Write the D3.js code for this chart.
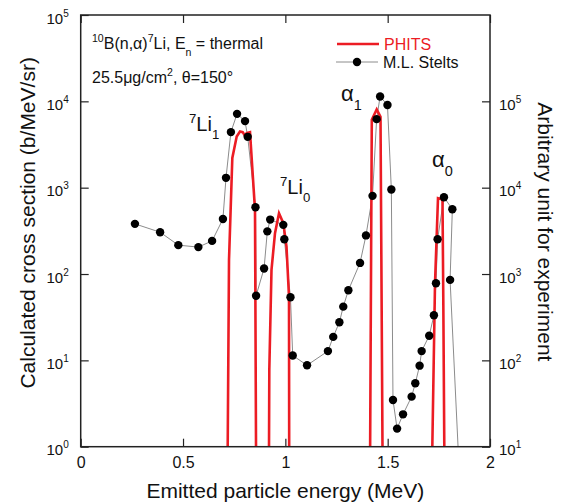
<!DOCTYPE html>
<html>
<head>
<meta charset="utf-8">
<script src="https://cdn.jsdelivr.net/npm/d3@7"></script>
<style>
  html, body { margin: 0; padding: 0; background: #fff; }
  svg { display: block; font-family: "Liberation Sans", Arial, Helvetica, sans-serif; }
</style>
</head>
<body>
<svg id="chart" width="565" height="504"></svg>
<script>
// Measured alpha / 7Li spectrum (arbitrary units, right axis)
const expEnergy = [0.265, 0.388, 0.477, 0.575, 0.642, 0.695, 0.710, 0.734, 0.764, 0.803,
  0.816, 0.854, 0.857, 0.896, 0.912, 0.926, 0.990, 0.995, 1.025, 1.036,
  1.106, 1.208, 1.234, 1.264, 1.283, 1.308, 1.365, 1.394, 1.426, 1.446,
  1.463, 1.499, 1.518, 1.526, 1.546, 1.575, 1.617, 1.635, 1.656, 1.666,
  1.703, 1.726, 1.736, 1.744, 1.775, 1.816, 1.805, 1.850];
const expCounts = [3810, 3050, 2160, 2050, 2420, 4330, 13000, 44000, 71600, 59000,
  38800, 5940, 560, 1160, 3120, 4270, 3710, 2530, 538, 114,
  87.7, 128, 187, 276, 419, 649, 1345, 2800, 8040, 62200,
  113700, 90600, 9510, 34.8, 16.2, 23.7, 38.0, 54.3, 86.8, 128,
  193, 333, 782, 2530, 7760, 5630, 855, 5];

// PHITS calculation (b/MeV/sr, left axis); 0.1 marks empty bins below the plotted range
const phitsEnergy = [0.7154, 0.7247, 0.7409, 0.7623, 0.7784, 0.7916, 0.8028, 0.8111, 0.8273, 0.8517, 0.8585,
  0.9186, 0.9216, 0.9323, 0.9494, 0.9690, 0.9900, 1.0056, 1.0178, 1.0193,
  1.4122, 1.4224, 1.4464, 1.4650, 1.4772,
  1.7112, 1.7313, 1.7459, 1.7679, 1.7718, 1.7796];
const phitsXs = [0.1, 146, 2214, 3910, 4467, 4395, 3981, 4285, 4395, 553, 0.1,
  0.1, 7.74, 111.6, 297, 506, 388, 208, 54.7, 0.1,
  0.1, 6110, 8075, 6610, 0.1,
  0.1, 78.2, 755, 731, 50.1, 0.1];

const energyTicks = [0, 0.5, 1, 1.5, 2];
const energyTickLabels = ["0", "0.5", "1", "1.5", "2"];
const xsTicks = [1, 10, 100, 1e3, 1e4, 1e5];
const countTicks = [10, 100, 1e3, 1e4, 1e5];

const svg = d3.select("#chart");
const plotLeft = 80.7, plotRight = 490, plotTop = 15, plotBottom = 446.7;

const x = d3.scaleLinear().domain([0, 2]).range([plotLeft, plotRight]);
const yXs = d3.scaleLog().domain([1, 1e5]).range([plotBottom, plotTop]);
const yCounts = d3.scaleLog().domain([10, 1e6]).range([plotBottom, plotTop]);

svg.append("defs").append("clipPath").attr("id", "plotClip")
  .append("rect").attr("x", plotLeft).attr("y", plotTop)
  .attr("width", plotRight - plotLeft).attr("height", plotBottom - plotTop);

const plot = svg.append("g").attr("clip-path", "url(#plotClip)");

const exp = expEnergy.map((e, i) => ({ e, v: expCounts[i] }));
const phits = phitsEnergy.map((e, i) => ({ e, v: phitsXs[i] }));

plot.append("path")
  .datum(exp)
  .attr("fill", "none")
  .attr("stroke", "#8c8c8c")
  .attr("stroke-width", 1)
  .attr("d", d3.line().x(d => x(d.e)).y(d => yCounts(d.v)));

plot.append("path")
  .datum(phits)
  .attr("fill", "none")
  .attr("stroke", "#ec1c24")
  .attr("stroke-width", 2.6)
  .attr("stroke-linejoin", "miter")
  .attr("d", d3.line().x(d => x(d.e)).y(d => yXs(d.v)));

plot.selectAll("circle.exp")
  .data(exp)
  .join("circle")
  .attr("class", "exp")
  .attr("cx", d => x(d.e))
  .attr("cy", d => yCounts(d.v))
  .attr("r", 4.2)
  .attr("fill", "#000");

// Axes: ticks point inward on all four sides
const axisColor = "#222";
function styleAxis(g) {
  g.select(".domain").remove();
  g.selectAll(".tick line").attr("stroke", axisColor).attr("stroke-width", 1.2);
  g.selectAll("text").attr("fill", "#111").attr("font-family", null);
}

const gBottom = svg.append("g").attr("transform", `translate(0,${plotBottom})`)
  .call(d3.axisBottom(x).tickValues(energyTicks).tickSize(-8).tickPadding(10)
    .tickFormat((d, i) => energyTickLabels[i]));
styleAxis(gBottom);
gBottom.selectAll("text").attr("font-size", 16);

const gTop = svg.append("g").attr("transform", `translate(0,${plotTop})`)
  .call(d3.axisTop(x).tickValues(energyTicks).tickSize(-8).tickFormat(""));
styleAxis(gTop);

function powerLabel(sel) {
  sel.each(function (d) {
    const t = d3.select(this);
    const p = Math.round(Math.log10(d));
    t.text(null);
    t.append("tspan").text("10");
    t.append("tspan").attr("font-size", 10).attr("dy", -7).text(p);
  });
}

const gLeft = svg.append("g").attr("transform", `translate(${plotLeft},0)`)
  .call(d3.axisLeft(yXs).tickValues(xsTicks).tickSize(-8).tickPadding(12));
styleAxis(gLeft);
gLeft.selectAll("text").attr("font-size", 15).attr("dy", "0.55em").call(powerLabel);

const gRight = svg.append("g").attr("transform", `translate(${plotRight},0)`)
  .call(d3.axisRight(yCounts).tickValues(countTicks).tickSize(-8).tickPadding(9));
styleAxis(gRight);
gRight.selectAll("text").attr("font-size", 15).attr("dy", "0.55em").call(powerLabel);

// Frame
svg.append("rect")
  .attr("x", plotLeft).attr("y", plotTop)
  .attr("width", plotRight - plotLeft).attr("height", plotBottom - plotTop)
  .attr("fill", "none").attr("stroke", axisColor).attr("stroke-width", 1.5);

// Axis titles
svg.append("text")
  .attr("x", (plotLeft + plotRight) / 2).attr("y", 498)
  .attr("text-anchor", "middle").attr("font-size", 21).attr("fill", "#111")
  .text("Emitted particle energy (MeV)");

svg.append("text")
  .attr("transform", `translate(35,${(plotTop + plotBottom) / 2 - 8}) rotate(-90)`)
  .attr("text-anchor", "middle").attr("font-size", 21).attr("fill", "#111")
  .text("Calculated cross section (b/MeV/sr)");

svg.append("text")
  .attr("transform", `translate(538,${(plotTop + plotBottom) / 2 + 1}) rotate(90)`)
  .attr("text-anchor", "middle").attr("font-size", 21).attr("fill", "#111")
  .text("Arbitrary unit for experiment");

// Rich text helper: parts are [text, shift] with shift "sup", "sub" or none
function richText(xPos, yPos, size, parts, color) {
  const t = svg.append("text").attr("x", xPos).attr("y", yPos)
    .attr("font-size", size).attr("fill", color || "#111");
  let offset = 0;
  parts.forEach(([str, kind]) => {
    const s = t.append("tspan").text(str);
    let target = 0;
    if (kind === "sup") { target = -size * 0.42; s.attr("font-size", size * 0.66); }
    if (kind === "sub") { target = size * 0.42; s.attr("font-size", size * 0.66); }
    s.attr("dy", target - offset);
    offset = target;
  });
  return t;
}

richText(92, 49, 16, [["10", "sup"], ["B(n,\u03b1)"], ["7", "sup"], ["Li, E"], ["n", "sub"], [" = thermal"]]);
richText(92, 83, 16, [["25.5\u03bcg/cm"], ["2", "sup"], [", \u03b8=150\u00b0"]]);

// Peak labels
richText(189, 131, 20, [["7", "sup"], ["Li"], ["1", "sub"]]);
richText(280, 194, 20, [["7", "sup"], ["Li"], ["0", "sub"]]);
richText(341, 101, 22, [["\u03b1"], ["1", "sub"]]);
richText(432, 167, 22, [["\u03b1"], ["0", "sub"]]);

// Legend
const legend = svg.append("g");
legend.append("line").attr("x1", 337).attr("x2", 379).attr("y1", 44).attr("y2", 44)
  .attr("stroke", "#ec1c24").attr("stroke-width", 2.6);
legend.append("text").attr("x", 384).attr("y", 50).attr("font-size", 16)
  .attr("fill", "#ec1c24").text("PHITS");
legend.append("line").attr("x1", 336).attr("x2", 378).attr("y1", 62).attr("y2", 62)
  .attr("stroke", "#8c8c8c").attr("stroke-width", 1);
legend.append("circle").attr("cx", 357).attr("cy", 62).attr("r", 4.2).attr("fill", "#000");
legend.append("text").attr("x", 383).attr("y", 68).attr("font-size", 16)
  .attr("fill", "#111").text("M.L. Stelts");
</script>
</body>
</html>
